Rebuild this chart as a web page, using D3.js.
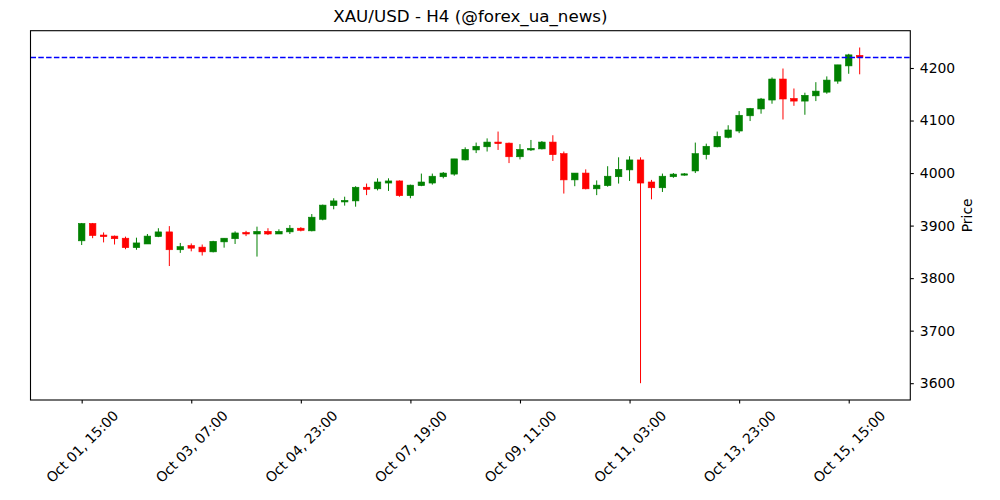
<!DOCTYPE html>
<html>
<head>
<meta charset="utf-8">
<script src="https://cdn.jsdelivr.net/npm/d3@7"></script>
<style>
  html, body { margin: 0; padding: 0; background: #fff; }
  svg { display: block; font-family: "DejaVu Sans", sans-serif; }
</style>
</head>
<body>
<svg id="chart" width="1000" height="500"></svg>
<script>
// ---- data (H4 candles) ----
const opens  = [3871,3904,3882,3880,3876,3858,3865,3879,3888,3854,
                3862,3859,3850,3869,3875,3887,3884,3889,3884,3888,
                3895,3890,3912,3938,3945,3947,3973,3970,3981,3985,
                3957,3976,3981,3993,3998,4025,4044,4050,4059,4057,
                4031,4044,4046,4059,4037,3987,4000,3970,3976,3993,
                4006,4025,3983,3972,3993,3996,4004,4035,4050,4068,
                4080,4109,4122,4139,4179,4142,4137,4147,4154,4175,
                4204,4224];
const highs  = [3905,3905,3887,3881,3879,3877,3884,3895,3899,3867,
                3866,3864,3871,3876,3889,3890,3898,3895,3893,3901,
                3897,3922,3940,3952,3955,3975,3980,3990,3990,3986,
                3978,3999,3999,4002,4027,4049,4058,4066,4079,4058,
                4055,4063,4061,4072,4041,4000,4007,3986,4013,4030,
                4032,4030,3987,3999,4000,4000,4058,4056,4079,4091,
                4118,4124,4143,4182,4199,4161,4153,4173,4184,4206,
                4227,4239];
const lows   = [3863,3876,3868,3864,3855,3854,3865,3878,3823,3848,
                3851,3843,3849,3858,3865,3880,3841,3882,3884,3884,
                3889,3889,3910,3931,3938,3936,3958,3967,3966,3955,
                3952,3975,3978,3990,3995,4024,4038,4041,4044,4019,
                4026,4042,4045,4023,3961,3975,3969,3958,3974,3980,
                3985,3600,3950,3964,3991,3995,4000,4026,4049,4066,
                4076,4099,4113,4132,4102,4128,4111,4137,4151,4170,
                4189,4188];
const closes = [3904,3881,3879,3875,3858,3867,3880,3888,3854,3860,
                3857,3850,3870,3876,3886,3884,3889,3884,3889,3895,
                3891,3916,3939,3947,3948,3973,3969,3983,3985,3957,
                3977,3983,3994,4000,4027,4045,4051,4059,4056,4031,
                4045,4047,4059,4035,3987,4000,3970,3977,3994,4007,
                4025,3981,3972,3994,3998,3998.5,4037,4051,4070,4082,
                4110,4123,4141,4179,4141,4137,4148,4156,4177,4206,
                4225,4220];
const tickIndex  = [0, 10, 20, 30, 40, 50, 60, 70];
const tickLabels = ["Oct 01, 15:00","Oct 03, 07:00","Oct 04, 23:00","Oct 07, 19:00",
                    "Oct 09, 11:00","Oct 11, 03:00","Oct 13, 23:00","Oct 15, 15:00"];
const priceTicks = [3600, 3700, 3800, 3900, 4000, 4100, 4200];
const lastPrice  = 4220;
const titleText  = "XAU/USD - H4 (@forex_ua_news)";
const yLabel     = "Price";

// ---- layout ----
const svg = d3.select("#chart");
const L = 30.5, R = 910.3, T = 30.7, B = 400;
const candles = opens.map((o, i) => ({ i, o, h: highs[i], l: lows[i], c: closes[i] }));

const x = d3.scaleLinear().domain([-4.67, 75.62]).range([L, R]);
const y = d3.scaleLinear().domain([3568, 4271]).range([B, T]);
const step = x(1) - x(0);
const bw = step * 0.6;
const UP = "#008000", DOWN = "#ff0000";

const g = svg.append("g");

// clip
svg.append("defs").append("clipPath").attr("id", "clip")
  .append("rect").attr("x", L).attr("y", T).attr("width", R - L).attr("height", B - T);
const plot = g.append("g").attr("clip-path", "url(#clip)");

// wicks
plot.selectAll("line.wick").data(candles).enter().append("line")
  .attr("class", "wick")
  .attr("x1", d => x(d.i)).attr("x2", d => x(d.i))
  .attr("y1", d => y(d.h)).attr("y2", d => y(d.l))
  .attr("stroke", d => d.c >= d.o ? UP : DOWN)
  .attr("stroke-width", 1);

// bodies
plot.selectAll("rect.body").data(candles).enter().append("rect")
  .attr("class", "body")
  .attr("x", d => x(d.i) - bw / 2)
  .attr("width", bw)
  .attr("y", d => y(Math.max(d.o, d.c)))
  .attr("height", d => Math.max(1, Math.abs(y(d.o) - y(d.c))))
  .attr("fill", d => d.c >= d.o ? UP : DOWN)
  .attr("stroke", d => d.c >= d.o ? UP : DOWN)
  .attr("stroke-width", 0.6);

// last price dashed line
g.append("line")
  .attr("x1", L).attr("x2", R)
  .attr("y1", y(lastPrice)).attr("y2", y(lastPrice))
  .style("stroke", "rgb(0,0,255)").style("stroke-width", "1.5px")
  .style("stroke-dasharray", "5.5,2.3");

// frame
g.append("rect").attr("x", L).attr("y", T).attr("width", R - L).attr("height", B - T)
  .attr("fill", "none").attr("stroke", "#000").attr("stroke-width", 1.1);

// x axis
const xAxis = d3.axisBottom(x).tickValues(tickIndex).tickSize(3.5).tickFormat((d, k) => tickLabels[k]);
const xg = g.append("g").attr("transform", `translate(0,${B})`).call(xAxis);
xg.select(".domain").remove();
xg.selectAll(".tick line").attr("stroke", "#000").attr("stroke-width", 1.1);
xg.selectAll(".tick text")
  .attr("font-size", "13.9px").attr("fill", "#000")
  .attr("font-family", "DejaVu Sans, sans-serif")
  .attr("text-anchor", "middle")
  .attr("dominant-baseline", "central")
  .attr("x", 0).attr("y", 0).attr("dy", null)
  .attr("transform", "translate(0,46.5) rotate(-45)");

// y axis (right)
const yAxis = d3.axisRight(y).tickValues(priceTicks).tickSize(3.5).tickPadding(6).tickFormat(d3.format("d"));
const yg = g.append("g").attr("transform", `translate(${R},0)`).call(yAxis);
yg.select(".domain").remove();
yg.selectAll(".tick line").attr("stroke", "#000").attr("stroke-width", 1.1);
yg.selectAll(".tick text")
  .attr("font-size", "13.9px").attr("fill", "#000")
  .attr("font-family", "DejaVu Sans, sans-serif");

// y label
svg.append("text")
  .attr("transform", `translate(972,${(T + B) / 2}) rotate(-90)`)
  .attr("text-anchor", "middle")
  .attr("font-size", "13.9px").attr("fill", "#000")
  .text(yLabel);

// title
svg.append("text")
  .attr("x", (L + R) / 2).attr("y", 22)
  .attr("text-anchor", "middle")
  .attr("font-size", "16.7px").attr("fill", "#000")
  .text(titleText);
</script>
</body>
</html>
